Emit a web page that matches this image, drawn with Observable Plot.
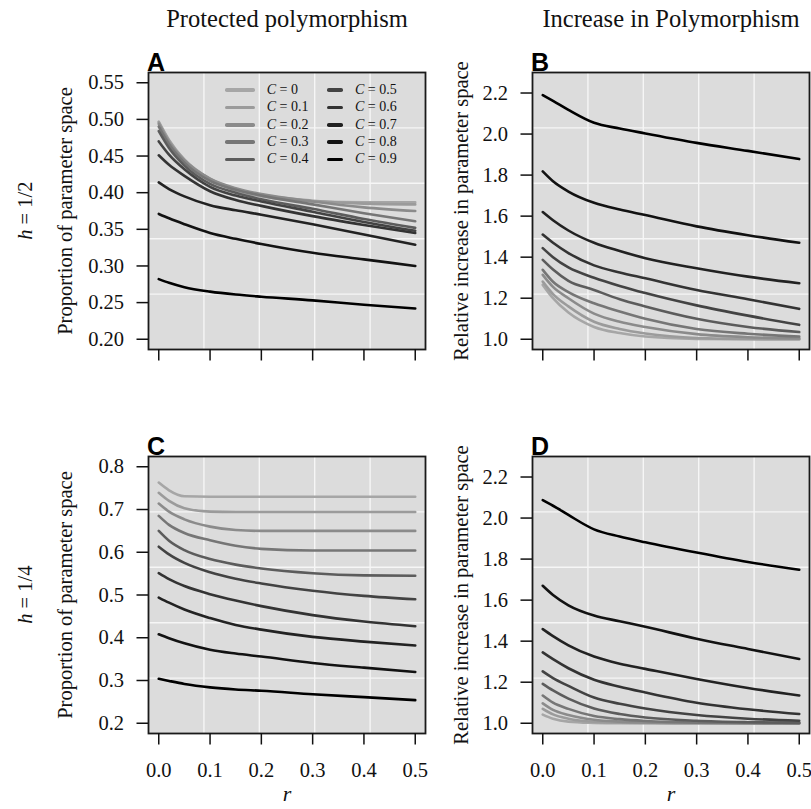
<!DOCTYPE html>
<html>
<head>
<meta charset="utf-8">
<script src="https://cdn.jsdelivr.net/npm/d3@7"></script>
<script src="https://cdn.jsdelivr.net/npm/@observablehq/plot@0.6"></script>
<style>
html, body { margin: 0; padding: 0; background: #fff; overflow: hidden; }
#fig { position: relative; width: 811px; height: 809px; }
#fig svg { position: absolute; overflow: visible; }
.legend { position: absolute; left: 225px; top: 81.5px; display: grid;
  grid-template-columns: 101.7px 70px; grid-template-rows: repeat(5, 17.33px);
  grid-auto-flow: column; font-family: 'Liberation Serif', 'Times New Roman', serif;
  font-size: 14px; color: #111; }
.legend .item { display: flex; align-items: center; height: 17.33px; white-space: nowrap; }
.legend .sw { display: inline-block; width: 30px; height: 3.6px; border-radius: 1.8px; }
.legend .lab { margin-left: 11.7px; line-height: 1; }
</style>
</head>
<body>
<div id="fig"></div>
<script>
// ---------- data ----------
const rValues = [0, 0.02, 0.05, 0.1, 0.15, 0.2, 0.3, 0.4, 0.5];
const cLabels = ["0", "0.1", "0.2", "0.3", "0.4", "0.5", "0.6", "0.7", "0.8", "0.9"];

// Panel A: protected polymorphism, h = 1/2 (one row per C)
const protectedHalf = [
  [0.497, 0.472, 0.445, 0.418, 0.403, 0.395, 0.388, 0.387, 0.387],
  [0.496, 0.471, 0.445, 0.419, 0.405, 0.397, 0.389, 0.385, 0.384],
  [0.494, 0.469, 0.444, 0.419, 0.406, 0.398, 0.388, 0.380, 0.375],
  [0.490, 0.466, 0.441, 0.416, 0.404, 0.396, 0.384, 0.372, 0.361],
  [0.484, 0.461, 0.437, 0.412, 0.400, 0.391, 0.378, 0.364, 0.352],
  [0.470, 0.452, 0.432, 0.408, 0.396, 0.388, 0.374, 0.360, 0.348],
  [0.451, 0.438, 0.423, 0.402, 0.390, 0.382, 0.368, 0.356, 0.345],
  [0.414, 0.405, 0.395, 0.383, 0.376, 0.370, 0.357, 0.343, 0.329],
  [0.371, 0.365, 0.357, 0.345, 0.337, 0.330, 0.318, 0.309, 0.300],
  [0.282, 0.277, 0.271, 0.265, 0.261, 0.258, 0.253, 0.247, 0.242]
];

// Panel B: increase in polymorphism, h = 1/2
const increaseHalf = [
  [1.265, 1.200, 1.130, 1.060, 1.030, 1.013, 1.002, 1.000, 1.000],
  [1.281, 1.220, 1.160, 1.085, 1.050, 1.028, 1.006, 1.001, 1.000],
  [1.314, 1.255, 1.200, 1.125, 1.085, 1.060, 1.025, 1.010, 1.004],
  [1.338, 1.280, 1.230, 1.175, 1.135, 1.100, 1.050, 1.027, 1.013],
  [1.387, 1.340, 1.285, 1.240, 1.195, 1.160, 1.100, 1.060, 1.035],
  [1.444, 1.400, 1.350, 1.300, 1.260, 1.225, 1.165, 1.115, 1.070],
  [1.510, 1.470, 1.420, 1.360, 1.325, 1.297, 1.240, 1.195, 1.148],
  [1.620, 1.580, 1.530, 1.470, 1.430, 1.395, 1.346, 1.305, 1.273],
  [1.818, 1.770, 1.720, 1.665, 1.632, 1.605, 1.550, 1.507, 1.470],
  [2.190, 2.162, 2.118, 2.055, 2.027, 2.003, 1.957, 1.918, 1.878]
];

// Panel C: protected polymorphism, h = 1/4
const protectedQuarter = [
  [0.763, 0.745, 0.731, 0.730, 0.730, 0.730, 0.730, 0.730, 0.730],
  [0.739, 0.720, 0.703, 0.695, 0.694, 0.694, 0.694, 0.694, 0.694],
  [0.714, 0.695, 0.677, 0.660, 0.652, 0.650, 0.650, 0.650, 0.650],
  [0.685, 0.664, 0.645, 0.628, 0.615, 0.608, 0.604, 0.604, 0.604],
  [0.650, 0.627, 0.605, 0.584, 0.571, 0.562, 0.551, 0.546, 0.545],
  [0.613, 0.595, 0.575, 0.553, 0.538, 0.527, 0.510, 0.498, 0.490],
  [0.551, 0.537, 0.521, 0.502, 0.487, 0.474, 0.453, 0.438, 0.427],
  [0.494, 0.482, 0.466, 0.446, 0.430, 0.419, 0.402, 0.391, 0.382],
  [0.408, 0.399, 0.387, 0.372, 0.363, 0.356, 0.341, 0.330, 0.320],
  [0.304, 0.299, 0.292, 0.284, 0.279, 0.276, 0.268, 0.261, 0.254]
];

// Panel D: increase in polymorphism, h = 1/4
const increaseQuarter = [
  [1.042, 1.022, 1.008, 1.002, 1.000, 1.000, 1.000, 1.000, 1.000],
  [1.070, 1.043, 1.022, 1.007, 1.003, 1.001, 1.000, 1.000, 1.000],
  [1.097, 1.065, 1.040, 1.017, 1.008, 1.004, 1.001, 1.000, 1.000],
  [1.135, 1.100, 1.070, 1.035, 1.020, 1.011, 1.003, 1.001, 1.000],
  [1.192, 1.160, 1.120, 1.072, 1.045, 1.028, 1.012, 1.005, 1.002],
  [1.253, 1.220, 1.182, 1.125, 1.095, 1.072, 1.040, 1.022, 1.012],
  [1.345, 1.312, 1.268, 1.212, 1.178, 1.150, 1.100, 1.068, 1.045],
  [1.459, 1.425, 1.380, 1.325, 1.290, 1.265, 1.216, 1.172, 1.135],
  [1.670, 1.625, 1.575, 1.525, 1.497, 1.470, 1.412, 1.362, 1.313],
  [2.087, 2.060, 2.015, 1.945, 1.910, 1.882, 1.832, 1.786, 1.748]
];

const xTicks = [0, 0.1, 0.2, 0.3, 0.4, 0.5];
const yTicksA = [0.20, 0.25, 0.30, 0.35, 0.40, 0.45, 0.50, 0.55];
const yTicksC = [0.2, 0.3, 0.4, 0.5, 0.6, 0.7, 0.8];
const yTicksIncrease = [1.0, 1.2, 1.4, 1.6, 1.8, 2.0, 2.2];
const columnTitles = ["Protected polymorphism", "Increase in Polymorphism"];
const rowLabels = ["= 1/2", "= 1/4"];
const panelLetters = ["A", "B", "C", "D"];
const yLabels = ["Proportion of parameter space", "Relative increase in parameter space"];
const xLabel = "r";

// styles
const palette = ["#a6a6a6", "#9b9b9b", "#8b8b8b", "#767676", "#5c5c5c",
                 "#434343", "#333333", "#222222", "#121212", "#000000"];
const SERIF = "'Liberation Serif', 'Times New Roman', serif";
const SANS = "'Liberation Sans', Arial, sans-serif";

const fig = document.getElementById("fig");

function panel(o) {
  const data = o.rows.flatMap((vals, i) => vals.map((v, j) => ({r: rValues[j], v, C: cLabels[i]})));
  const xd = [-0.02, 0.52];
  const yd = o.yDomain;
  const gx = d3.range(1, 5).map(i => xd[0] + i * (xd[1] - xd[0]) / 5);
  const gy = d3.range(1, 5).map(i => yd[0] + i * (yd[1] - yd[0]) / 5);
  const marks = [
    Plot.frame({fill: "#dcdcdc", stroke: "none"}),
    Plot.ruleX(gx, {stroke: "#f6f6f6", strokeWidth: 1.4}),
    Plot.ruleY(gy, {stroke: "#f6f6f6", strokeWidth: 1.4}),
    Plot.line(data, {x: "r", y: "v", z: "C", stroke: "C", strokeWidth: 2.6, curve: "monotone-x"}),
    Plot.frame({stroke: "#1a1a1a", strokeWidth: 1.8}),
    Plot.axisY({ticks: o.yTicks, tickFormat: d3.format(o.yFormat), tickSize: 11.5, tickPadding: 13,
      strokeWidth: 1.5, fontSize: 20.5, label: null}),
    Plot.axisX({ticks: xTicks, tickFormat: o.showX ? d3.format(".1f") : () => "", tickSize: 11.5,
      tickPadding: 17.5, strokeWidth: 1.5, fontSize: 20.5, label: null}),
    Plot.text([o.letter], {text: d => d, frameAnchor: "top-left", textAnchor: "start", lineAnchor: "bottom",
      dx: -1.5, dy: -2, fontFamily: SANS, fontWeight: "bold", fontSize: 25, fill: "#000"}),
    Plot.text([o.ylabel], {text: d => d, frameAnchor: "left", textAnchor: "middle", lineAnchor: "bottom",
      rotate: -90, dx: -o.ylabelOffset, fontSize: 20.5, fill: "#111"})
  ];
  if (o.title) {
    marks.push(Plot.text([o.title], {text: d => d, frameAnchor: "top", textAnchor: "middle", lineAnchor: "bottom",
      dy: -46, fontSize: 24.5, fill: "#111"}));
  }
  if (o.rowLabel) {
    marks.push(Plot.text(["h"], {text: d => d, frameAnchor: "left", textAnchor: "end", lineAnchor: "middle",
      rotate: -90, dx: -123, dy: 18.5, fontSize: 20.5, fontStyle: "italic", fill: "#111"}));
    marks.push(Plot.text(["\u00a0" + o.rowLabel], {text: d => d, frameAnchor: "left", textAnchor: "start", lineAnchor: "middle",
      rotate: -90, dx: -123, dy: 18.5, fontSize: 20.5, fill: "#111"}));
  }
  if (o.showX) {
    marks.push(Plot.text([xLabel], {text: d => d, frameAnchor: "bottom", textAnchor: "middle", lineAnchor: "bottom",
      dy: 67, fontSize: 22, fontStyle: "italic", fill: "#111"}));
  }
  const svg = Plot.plot({
    width: o.width, height: o.height,
    marginLeft: o.mL, marginRight: o.mR, marginTop: o.mT, marginBottom: o.mB,
    x: {domain: xd},
    y: {domain: yd},
    color: {type: "ordinal", domain: cLabels, range: palette},
    style: {fontFamily: SERIF, fontSize: "20.5px", color: "#111", background: "transparent"},
    marks
  });
  svg.style.left = o.left + "px";
  svg.style.top = o.top + "px";
  fig.appendChild(svg);
}

panel({rows: protectedHalf, yDomain: [0.186, 0.564], yTicks: yTicksA, yFormat: ".2f", letter: panelLetters[0],
  ylabel: yLabels[0], ylabelOffset: 77, title: columnTitles[0], rowLabel: rowLabels[0], showX: false,
  left: 0, top: 0, width: 430, height: 400, mL: 148, mR: 5, mT: 72, mB: 51});
panel({rows: increaseHalf, yDomain: [0.95, 2.30], yTicks: yTicksIncrease, yFormat: ".1f", letter: panelLetters[1],
  ylabel: yLabels[1], ylabelOffset: 65, title: columnTitles[1], rowLabel: null, showX: false,
  left: 430, top: 0, width: 381, height: 400, mL: 102, mR: 2, mT: 72, mB: 51});
panel({rows: protectedQuarter, yDomain: [0.176, 0.824], yTicks: yTicksC, yFormat: ".1f", letter: panelLetters[2],
  ylabel: yLabels[0], ylabelOffset: 77, title: null, rowLabel: rowLabels[1], showX: true,
  left: 0, top: 400, width: 430, height: 409, mL: 148, mR: 5, mT: 56, mB: 76});
panel({rows: increaseQuarter, yDomain: [0.95, 2.30], yTicks: yTicksIncrease, yFormat: ".1f", letter: panelLetters[3],
  ylabel: yLabels[1], ylabelOffset: 65, title: null, rowLabel: null, showX: true,
  left: 430, top: 400, width: 381, height: 409, mL: 102, mR: 2, mT: 56, mB: 76});

// legend (panel A)
const legend = document.createElement("div");
legend.className = "legend";
cLabels.forEach((c, i) => {
  const item = document.createElement("div");
  item.className = "item";
  const sw = document.createElement("span");
  sw.className = "sw";
  sw.style.background = palette[i];
  const lab = document.createElement("span");
  lab.className = "lab";
  const ci = document.createElement("i");
  ci.textContent = "C";
  lab.appendChild(ci);
  lab.appendChild(document.createTextNode(" = " + c));
  item.appendChild(sw);
  item.appendChild(lab);
  legend.appendChild(item);
});
fig.appendChild(legend);
</script>
</body>
</html>
